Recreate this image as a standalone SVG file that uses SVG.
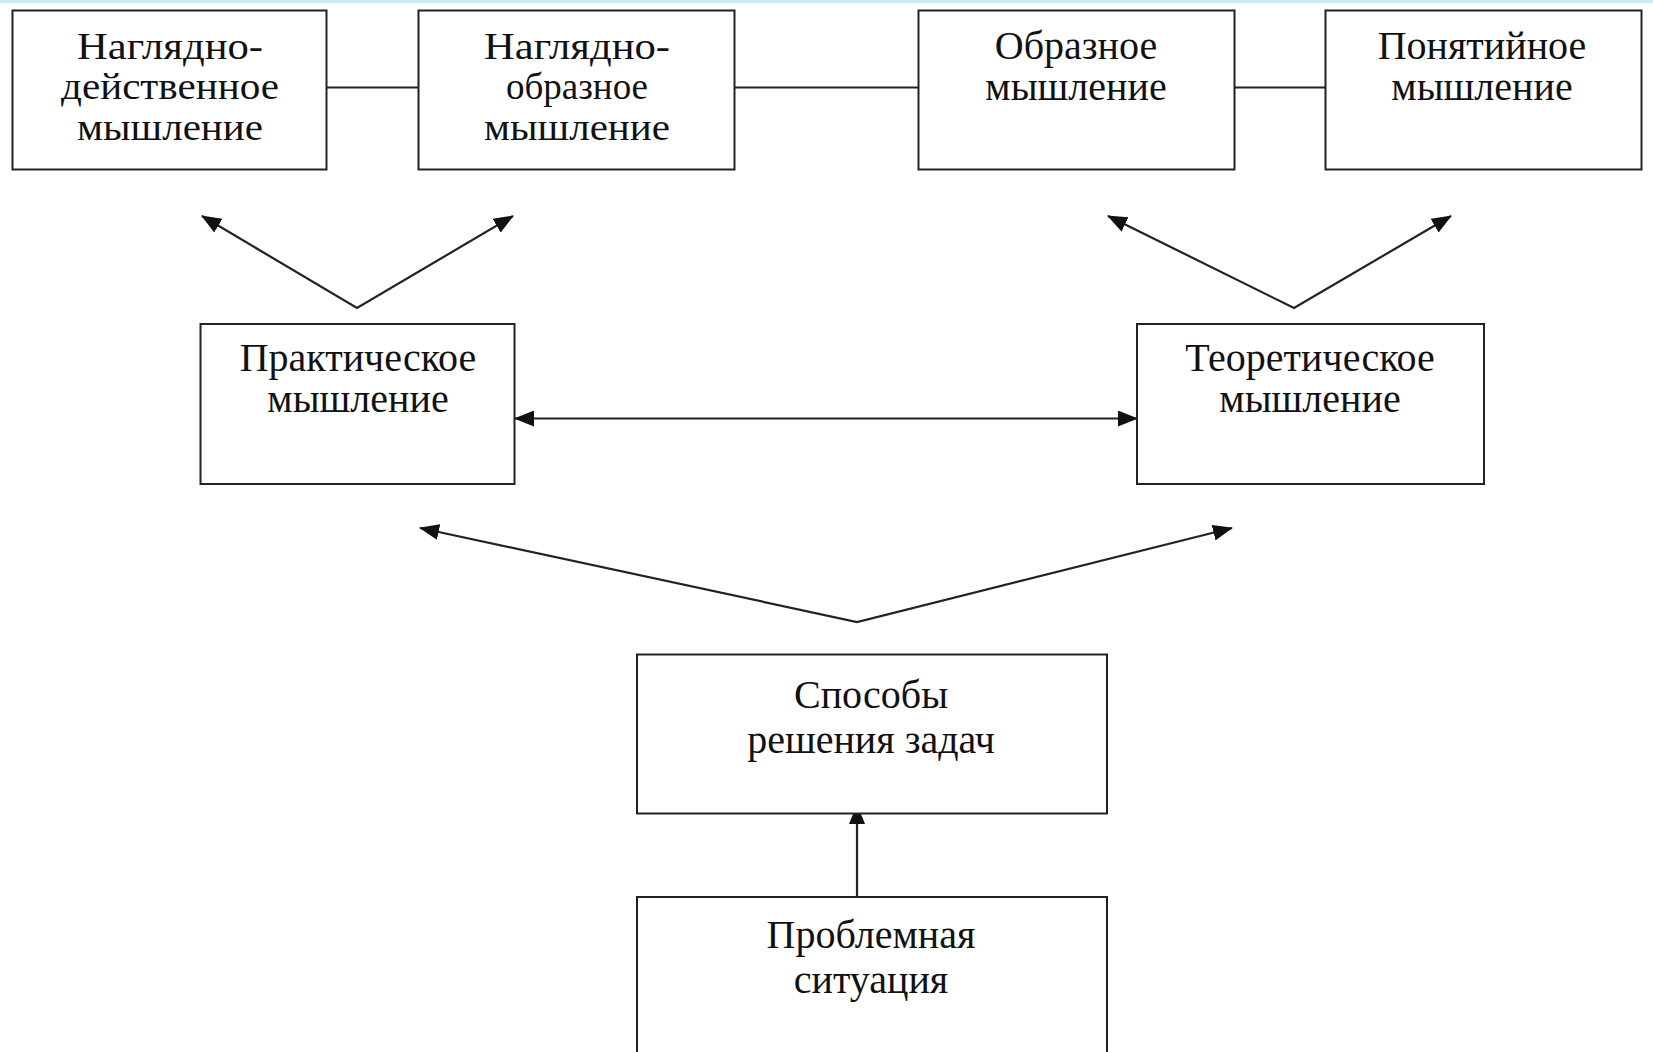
<svg xmlns="http://www.w3.org/2000/svg" width="1653" height="1052" viewBox="0 0 1653 1052">
<style>
.box{fill:#fff;stroke:#222;stroke-width:2}
.t{font-family:"Liberation Serif","Times New Roman",serif;font-size:40px;fill:#111;text-anchor:middle}
.s{font-size:37px}
.c{fill:none;stroke:#222;stroke-width:2.2}
</style>
<defs>
<marker id="ah" viewBox="0 0 20 16" refX="19" refY="8" markerWidth="20" markerHeight="16" markerUnits="userSpaceOnUse" orient="auto-start-reverse">
<path d="M0,0 L20,8 L0,16 Z" fill="#111"/>
</marker>
</defs>
<rect x="0" y="0" width="1653" height="1052" fill="#fff"/>
<rect x="0" y="0" width="1653" height="3" fill="#c4eefb"/>
<g id="connectors">
<line class="c" x1="327" y1="87.5" x2="418" y2="87.5"/>
<line class="c" x1="735" y1="87.5" x2="918" y2="87.5"/>
<line class="c" x1="1235" y1="87.5" x2="1325" y2="87.5"/>
<polyline class="c" points="202,216 357,308 513,216" marker-start="url(#ah)" marker-end="url(#ah)"/>
<polyline class="c" points="1108,216 1294,308 1451,216" marker-start="url(#ah)" marker-end="url(#ah)"/>
<line class="c" x1="515" y1="418.5" x2="1137" y2="418.5" marker-start="url(#ah)" marker-end="url(#ah)"/>
<polyline class="c" points="420,528 857,622 1232,528" marker-start="url(#ah)" marker-end="url(#ah)"/>
<line class="c" x1="857" y1="897" x2="857" y2="805" marker-end="url(#ah)"/>
</g>
<g id="n1">
<rect class="box" x="12.5" y="10.5" width="314" height="159"/>
<text class="t s" x="170" y="59" textLength="186" lengthAdjust="spacingAndGlyphs">Наглядно-</text>
<text class="t s" x="170" y="99" textLength="218" lengthAdjust="spacingAndGlyphs">действенное</text>
<text class="t s" x="170" y="140" textLength="186" lengthAdjust="spacingAndGlyphs">мышление</text>
</g>
<g id="n2">
<rect class="box" x="418.5" y="10.5" width="316" height="159"/>
<text class="t s" x="577" y="59" textLength="186" lengthAdjust="spacingAndGlyphs">Наглядно-</text>
<text class="t s" x="577" y="99">образное</text>
<text class="t s" x="577" y="140" textLength="186" lengthAdjust="spacingAndGlyphs">мышление</text>
</g>
<g id="n3">
<rect class="box" x="918.5" y="10.5" width="316" height="159"/>
<text class="t" x="1076" y="59">Образное</text>
<text class="t" x="1076" y="100">мышление</text>
</g>
<g id="n4">
<rect class="box" x="1325.5" y="10.5" width="316" height="159"/>
<text class="t" x="1482" y="59">Понятийное</text>
<text class="t" x="1482" y="100">мышление</text>
</g>
<g id="n5">
<rect class="box" x="200.5" y="324" width="314" height="160"/>
<text class="t" x="358" y="371">Практическое</text>
<text class="t" x="358" y="412">мышление</text>
</g>
<g id="n6">
<rect class="box" x="1137" y="324" width="347" height="160"/>
<text class="t" x="1310" y="371">Теоретическое</text>
<text class="t" x="1310" y="412">мышление</text>
</g>
<g id="n7">
<rect class="box" x="637" y="654.5" width="470" height="159"/>
<text class="t" x="871" y="708">Способы</text>
<text class="t" x="871" y="753">решения задач</text>
</g>
<g id="n8">
<rect class="box" x="637" y="897" width="470" height="170"/>
<text class="t" x="871" y="948">Проблемная</text>
<text class="t" x="871" y="993">ситуация</text>
</g>
</svg>
